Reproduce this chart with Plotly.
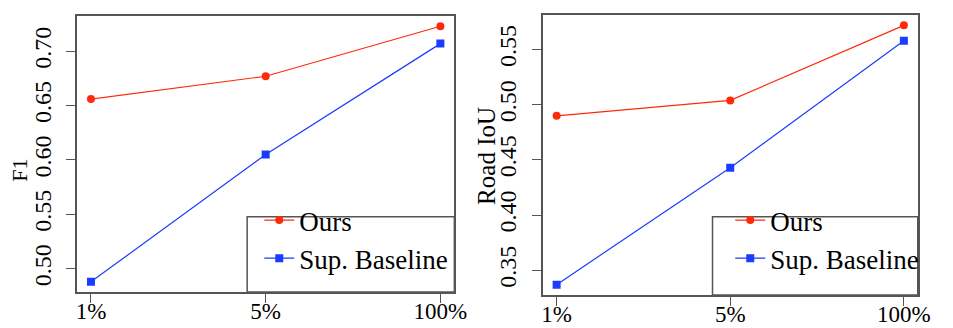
import plotly.graph_objects as go

x_labels = ["1%", "5%", "100%"]
f1_ours = [0.656, 0.677, 0.723]
f1_base = [0.488, 0.605, 0.707]
iou_ours = [0.490, 0.504, 0.572]
iou_base = [0.337, 0.443, 0.558]
series_names = ["Ours", "Sup. Baseline"]
f1_ticks = [0.50, 0.55, 0.60, 0.65, 0.70]
iou_ticks = [0.35, 0.40, 0.45, 0.50, 0.55]

RED = "#ff2a0a"
BLUE = "#1a3cff"
FONT = "Liberation Serif"
W, H = 953, 328

xs = [1, 2, 3]
fig = go.Figure()

def add_pair(ours, base, xa, ya, legend):
    fig.add_trace(go.Scatter(x=xs, y=ours, mode="lines+markers", name=series_names[0],
                             line=dict(color=RED, width=1.2), marker=dict(color=RED, size=8, symbol="circle"),
                             xaxis=xa, yaxis=ya, legend=legend, legendgroup=legend + "a"))
    fig.add_trace(go.Scatter(x=xs, y=base, mode="lines+markers", name=series_names[1],
                             line=dict(color=BLUE, width=1.2), marker=dict(color=BLUE, size=8, symbol="square"),
                             xaxis=xa, yaxis=ya, legend=legend, legendgroup=legend + "b"))

add_pair(f1_ours, f1_base, "x", "y", "legend")
add_pair(iou_ours, iou_base, "x2", "y2", "legend2")

def rng(vals):
    lo, hi = min(vals), max(vals)
    pad = (hi - lo) * 0.04
    return [lo - pad, hi + pad]

axis_common = dict(showline=True, mirror=True, linecolor="#555555", linewidth=1.5,
                   ticks="outside", ticklen=9, tickcolor="#555555", tickwidth=1.2,
                   showgrid=False, zeroline=False)
xfont = dict(family=FONT, size=23, color="black")
yfont = dict(family=FONT, size=24, color="black")

xdom1 = [69 / W, 452 / W]
xdom2 = [541.7 / W, 922.3 / W]
ydom1 = [1 - 284 / H, 1 - 8 / H]
ydom2 = [1 - 287 / H, 1 - 7 / H]

legfont = dict(family=FONT, size=27, color="black")

fig.update_layout(
    width=W, height=H, margin=dict(l=0, r=0, t=0, b=0),
    paper_bgcolor="white", plot_bgcolor="white",
    xaxis=dict(domain=xdom1, range=[0.92, 3.08], tickvals=xs, ticktext=x_labels, anchor="y",
               tickfont=xfont, ticklabelstandoff=-11, **axis_common),
    yaxis=dict(domain=ydom1, range=rng(f1_ours + f1_base), tickvals=f1_ticks,
               ticktext=[f"{v:.2f}" for v in f1_ticks], tickangle=-90, anchor="x",
               tickfont=yfont, ticklabelstandoff=6, **axis_common),
    xaxis2=dict(domain=xdom2, range=[0.92, 3.08], tickvals=xs, ticktext=x_labels, anchor="y2",
                tickfont=xfont, ticklabelstandoff=-11, **axis_common),
    yaxis2=dict(domain=ydom2, range=rng(iou_ours + iou_base), tickvals=iou_ticks,
                ticktext=[f"{v:.2f}" for v in iou_ticks], tickangle=-90, anchor="x2",
                tickfont=yfont, ticklabelstandoff=6, **axis_common),
    legend=dict(x=254 / W, y=1 - 188 / H, xanchor="left", yanchor="top",
                font=legfont, bgcolor="rgba(0,0,0,0)", borderwidth=0, tracegroupgap=0),
    legend2=dict(x=732 / W, y=1 - 188 / H, xanchor="left", yanchor="top",
                 font=legfont, bgcolor="rgba(0,0,0,0)", borderwidth=0, tracegroupgap=0),
    shapes=[
        dict(type="rect", xref="paper", yref="paper", x0=241.7 / W, x1=452 / W,
             y0=1 - 284 / H, y1=1 - 208.7 / H, line=dict(color="#555555", width=1.5)),
        dict(type="rect", xref="paper", yref="paper", x0=714 / W, x1=922.3 / W,
             y0=1 - 287 / H, y1=1 - 208.7 / H, line=dict(color="#555555", width=1.5)),
    ],
    annotations=[
        dict(text="F1", xref="paper", yref="paper", x=10 / W, y=1 - 162 / H, showarrow=False,
             xanchor="center", yanchor="middle", borderpad=0,
             textangle=-90, font=dict(family=FONT, size=22, color="black")),
        dict(text="Road IoU", xref="paper", yref="paper", x=484 / W, y=1 - 148 / H, showarrow=False,
             xanchor="center", yanchor="middle",
             textangle=-90, font=dict(family=FONT, size=25, color="black")),
    ],
)

fig.write_html("out.html")
